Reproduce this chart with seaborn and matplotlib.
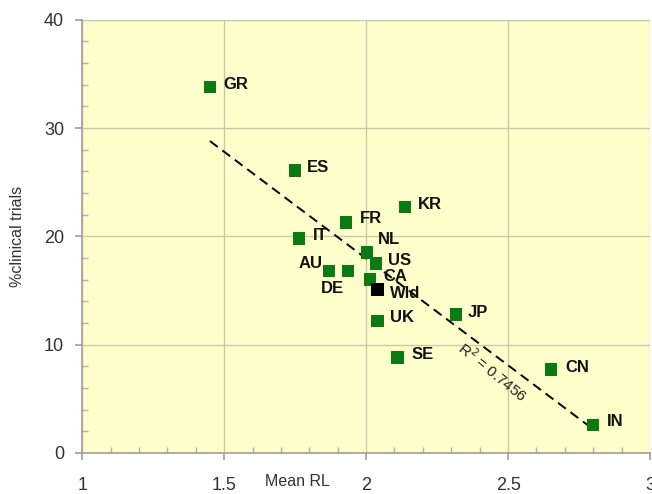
import numpy as np
import pandas as pd
import matplotlib
matplotlib.use("Agg")
import matplotlib.pyplot as plt
import seaborn as sns

countries = ["GR", "ES", "KR", "FR", "IT", "NL", "US", "AU", "DE", "CA", "Wld", "UK", "JP", "SE", "CN", "IN"]
mean_rl = [1.45, 1.75, 2.137, 1.93, 1.764, 2.004, 2.035, 1.87, 1.937, 2.014, 2.04, 2.04, 2.317, 2.11, 2.651, 2.80]
pct_trials = [33.8, 26.1, 22.7, 21.3, 19.8, 18.5, 17.5, 16.8, 16.8, 16.0, 15.1, 12.2, 12.8, 8.8, 7.7, 2.6]
group = ["country"] * 10 + ["world"] + ["country"] * 5
r2_label = "R$^2$ = 0.7456"
x_ticks = [1, 1.5, 2, 2.5, 3]
y_ticks = [0, 10, 20, 30, 40]

df = pd.DataFrame({"country": countries, "rl": mean_rl, "pct": pct_trials, "group": group})

sns.set_theme(style="ticks")
plt.rcParams["font.family"] = ["Liberation Sans", "DejaVu Sans"]

fig = plt.figure(figsize=(6.52, 4.94), dpi=100)
ax = fig.add_axes([0.126, 0.083, 0.871, 0.877])
ax.set_facecolor("#FFFFCC")

# trend line (fit on countries, excluding world)
sns.regplot(data=df[df.group == "country"], x="rl", y="pct", scatter=False, ci=None,
            color="black", line_kws=dict(ls=(0, (5, 3)), lw=1.4), ax=ax)

sns.scatterplot(data=df, x="rl", y="pct", hue="group",
                palette={"country": "#0B7A12", "world": "#000000"},
                marker="s", s=80, edgecolor="none", legend=False, ax=ax, zorder=3)

offsets = {
    "GR": (13, 2, "left"), "ES": (12, 3, "left"), "KR": (13, 3, "left"), "FR": (14, 4, "left"),
    "IT": (14, 3, "left"), "NL": (11, 13, "left"), "US": (12, 3, "left"), "AU": (-7, 8, "right"),
    "DE": (-27, -17, "left"), "CA": (13, 3, "left"), "Wld": (13, -4, "left"), "UK": (13, 3, "left"),
    "JP": (12, 2, "left"), "SE": (14, 3, "left"), "CN": (14, 2, "left"), "IN": (14, 3, "left"),
}
for c, x, y in zip(countries, mean_rl, pct_trials):
    dx, dy, ha = offsets[c]
    ax.annotate(c, (x, y), xytext=(dx, dy), textcoords="offset pixels",
                ha=ha, va="center", fontsize=12, fontweight="bold", color="#111111")

ax.text(2.447, 7.5, r2_label, rotation=-39, ha="center", va="center",
        fontsize=11, color="#222222", rotation_mode="anchor")

ax.set_xlim(1, 3)
ax.set_ylim(0, 40)
ax.set_xticks(x_ticks)
ax.set_xticklabels(["1", "1.5", "2", "2.5", "3"])
ax.set_yticks(y_ticks)
ax.set_xticks(np.arange(1, 3.001, 0.1), minor=True)
ax.set_yticks(np.arange(0, 40.001, 2), minor=True)
ax.grid(True, which="major", color="#C8C8A8", lw=1)
ax.tick_params(axis="both", which="major", direction="out", length=5, color="#A0A0A0",
               labelsize=13, labelcolor="#333333")
ax.tick_params(axis="y", which="major", pad=8)
ax.tick_params(axis="x", which="major", pad=12)
ax.tick_params(axis="both", which="minor", direction="in", length=4, color="#B0B0B0")

for s in ["top", "right"]:
    ax.spines[s].set_visible(False)
for s in ["left", "bottom"]:
    ax.spines[s].set_color("#A0A0A0")
    ax.spines[s].set_linewidth(1.2)

ax.set_xlabel("")
ax.set_ylabel("%clinical trials", fontsize=11.5, color="#333333")
ax.yaxis.set_label_coords(-0.10, 0.5)
ax.text(1.757, -0.066, "Mean RL", transform=ax.get_xaxis_transform(), ha="center",
        va="center", fontsize=11.5, color="#333333")

fig.savefig("out.png", dpi=100, facecolor="white")
